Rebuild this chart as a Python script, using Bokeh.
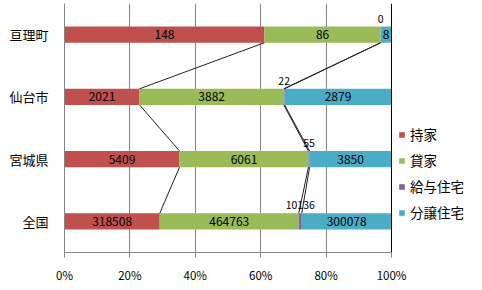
from bokeh.plotting import figure
from bokeh.models import (ColumnDataSource, FactorRange, Range1d, FixedTicker,
                          NumeralTickFormatter, Legend, LegendItem, Span)
from bokeh.core.properties import value
from bokeh.embed import file_html
from bokeh.resources import INLINE

categories = ["亘理町", "仙台市", "宮城県", "全国"]
series = ["持家", "貸家", "給与住宅", "分譲住宅"]
colors = ["#C0504D", "#9BBB59", "#8064A2", "#4BACC6"]
mochiie = [148, 2021, 5409, 318508]
kashiya = [86, 3882, 6061, 464763]
kyuyo = [0, 22, 55, 10136]
bunjo = [8, 2879, 3850, 300078]
x_ticks = [0, 0.2, 0.4, 0.6, 0.8, 1.0]

FONT = "Noto Sans CJK JP"
vals = [mochiie, kashiya, kyuyo, bunjo]
totals = [sum(v[i] for v in vals) for i in range(len(categories))]

# plot area: 0%..100% spans 327 px, the legend sits in the 91 px to the right
FRAME_W = 327
EXTRA_W = 91
BAR_H = 0.26
p = figure(width=482, height=290, output_backend="svg", toolbar_location=None,
           y_range=FactorRange(factors=categories[::-1], range_padding=0),
           x_range=Range1d(0, 1 + EXTRA_W / FRAME_W),
           min_border_left=64, min_border_right=0, min_border_top=3, min_border_bottom=38)
p.outline_line_color = None
p.background_fill_color = "white"
p.ygrid.grid_line_color = None
p.xgrid.ticker = FixedTicker(ticks=[0.2, 0.4, 0.6, 0.8])
p.xgrid.grid_line_color = "#868686"
p.xgrid.grid_line_width = 1

# right edge line at 100%
p.add_layout(Span(location=1.0, dimension="height", line_color="black", line_width=1))

# stacked bars
renderers = []
cum_start = [0.0] * len(categories)
ends = []
for s, v in enumerate(vals):
    left = list(cum_start)
    right = [cum_start[i] + v[i] / totals[i] for i in range(len(categories))]
    src = ColumnDataSource(dict(y=categories, left=left, right=right))
    r = p.hbar(y="y", left="left", right="right", height=BAR_H, source=src,
               fill_color=colors[s], line_color=None)
    renderers.append(r)
    ends.append(right)
    cum_start = right

# series lines
for s in range(len(series)):
    x0, y0, x1, y1 = [], [], [], []
    for i in range(len(categories) - 1):
        x0.append(ends[s][i]); y0.append((categories[i], -BAR_H / 2))
        x1.append(ends[s][i + 1]); y1.append((categories[i + 1], BAR_H / 2))
    p.segment(x0=x0, y0=y0, x1=x1, y1=y1, line_color="#222222", line_width=1)

# data labels
for s, v in enumerate(vals):
    starts = [0.0] * len(categories) if s == 0 else ends[s - 1]
    xs = [(starts[i] + ends[s][i]) / 2 for i in range(len(categories))]
    texts = [str(x) for x in v]
    if series[s] == "給与住宅":
        ys = [(c, BAR_H / 2) for c in categories]
        p.text(x=xs, y=ys, text=texts, text_font=value(FONT), text_font_size="10.5px",
               text_align="center", text_baseline="bottom", y_offset=-4, text_color="black")
    else:
        p.text(x=xs, y=categories, text=texts, text_font=value(FONT), text_font_size="12px",
               text_align="center", text_baseline="middle", text_color="black")

# axes
p.xaxis.ticker = FixedTicker(ticks=x_ticks)
p.xaxis.bounds = (0, 1)
p.xaxis.formatter = NumeralTickFormatter(format="0%")
p.xaxis.axis_line_color = "#868686"
p.xaxis.major_tick_line_color = "#868686"
p.xaxis.major_tick_out = 5
p.xaxis.major_tick_in = 0
p.xaxis.minor_tick_line_color = None
p.xaxis.major_label_text_font = FONT
p.xaxis.major_label_text_font_size = "11.5px"
p.xaxis.major_label_text_color = "black"
p.xaxis.major_label_standoff = 9

p.yaxis.axis_line_color = "#868686"
p.yaxis.major_tick_line_color = None
p.yaxis.minor_tick_line_color = None
p.yaxis.major_label_text_font = FONT
p.yaxis.major_label_text_font_size = "13px"
p.yaxis.major_label_text_color = "black"
p.yaxis.major_label_standoff = 10

legend = Legend(items=[LegendItem(label=series[s], renderers=[renderers[s]]) for s in range(4)],
                location=(334, 30), orientation="vertical")
legend.glyph_width = 7
legend.glyph_height = 7
legend.label_standoff = 5
legend.label_height = 20
legend.spacing = 6
legend.padding = 2
legend.margin = 0
legend.border_line_color = None
legend.background_fill_alpha = 0
legend.label_text_font = FONT
legend.label_text_font_size = "13.5px"
legend.label_text_color = "black"
p.add_layout(legend, "center")

open("out.html", "w").write(file_html(p, INLINE))
